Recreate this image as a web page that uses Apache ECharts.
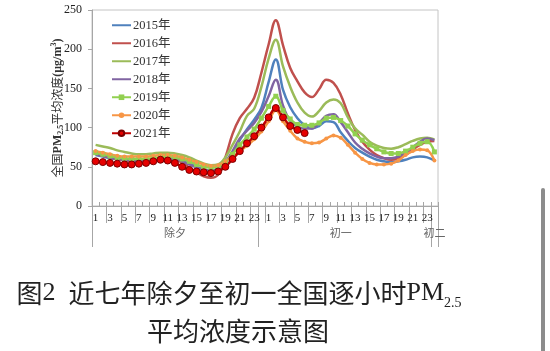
<!DOCTYPE html>
<html><head><meta charset="utf-8">
<script src="https://cdn.jsdelivr.net/npm/echarts@6/dist/echarts.min.js"></script>
<style>html,body{margin:0;padding:0;background:#fff}#c{width:550px;height:351px}</style>
</head><body><div id="c"></div>
<script>
// ---- data ----
const hourLabels = ['1','2','3','4','5','6','7','8','9','10','11','12','13','14','15','16','17','18','19','20','21','22','23',
  '0','1','2','3','4','5','6','7','8','9','10','11','12','13','14','15','16','17','18','19','20','21','22','23',
  '0'];
const dayNames = ['除夕','初一','初二'];
const daySizes = [23,24,1];
const yTicks = [0,50,100,150,200,250];
const seriesNames = ['2015年','2016年','2017年','2018年','2019年','2020年','2021年'];
const y2015 = [65,63,61,60,59,58,58,58,59,60,60,59,57,54,50,47,45,47,54,68,84,98,110,125,158,187,148,126,112,103,99,102,108,107,94,83,74,68,63,59,57,56,57,59,62,63,62,58];
const y2016 = [67,64,62,60,58,57,57,58,59,61,62,60,55,49,43,38,36,40,62,92,112,124,138,170,206,237,205,176,159,145,139,149,161,157,142,118,97,82,72,65,61,59,61,65,72,78,82,83];
const y2017 = [78,76,74,71,69,67,66,66,67,68,68,67,65,62,58,54,52,53,62,78,95,115,124,152,188,212,178,152,132,119,114,121,132,136,131,113,99,91,82,77,74,73,75,79,83,86,87,85];
const y2018 = [66,64,62,60,59,58,58,58,59,60,61,60,57,53,49,46,45,47,56,70,86,96,106,120,140,161,128,108,101,99,99,106,115,117,107,94,81,73,67,63,61,61,63,68,75,82,86,84];
const y2019 = [68,66,64,62,61,60,60,60,61,62,63,62,60,57,53,50,49,50,56,66,78,88,98,112,127,140,122,111,104,103,103,106,112,113,109,102,92,84,78,73,69,67,67,70,75,80,82,69];
const y2020 = [70,68,66,64,63,63,63,63,64,65,65,64,62,59,56,53,51,52,57,63,70,77,85,95,108,122,108,96,86,82,80,81,86,90,87,78,68,60,55,53,53,54,58,65,70,72,71,58];
const y2021 = [57,56,55,54,53,53,54,55,57,59,58,55,50,46,44,43,42,44,50,60,70,80,89,100,113,125,113,102,97,93];
const allData = [y2015,y2016,y2017,y2018,y2019,y2020,y2021];

// group label row + boundaries
const groupLabels = [];
const boundaries = [];
dayNames.forEach((n,gi)=>{
  const start = groupLabels.length;
  boundaries.push(start);
  for(let k=0;k<daySizes[gi];k++){
    groupLabels.push(k===Math.floor((daySizes[gi]-1)/2)? n : '');
  }
});

const colors = ['#4F81BD','#C0504D','#9BBB59','#8064A2','#92D050','#F79646','#C00000'];
const serif = 'Liberation Serif, "Times New Roman", "Noto Sans CJK SC", serif';
const cjk = '"Noto Sans CJK SC", sans-serif';

const series = allData.map((d,i)=>{
  const s = {
    name: seriesNames[i], type:'line', data:d, smooth:0.4,
    xAxisIndex:0, yAxisIndex:0,
    lineStyle:{width:2.5,color:colors[i]},
    itemStyle:{color:colors[i]},
    symbol:'none', showSymbol:false,
    emphasis:{disabled:true}, silent:true
  };
  if(i===4){ s.symbol='rect'; s.showSymbol=true; s.showAllSymbol=true; s.symbolSize=5; }
  if(i===5){ s.symbol='circle'; s.showSymbol=true; s.showAllSymbol=true; s.symbolSize=4; }
  if(i===6){ s.symbol='circle'; s.showSymbol=true; s.showAllSymbol=true; s.symbolSize=7;
    s.itemStyle={color:'#E60000',borderColor:'#7A0000',borderWidth:1}; }
  return s;
});

const legendData = seriesNames.map((n,i)=> i<4 ? {name:n,itemStyle:{opacity:0}} : {name:n});

const chart = echarts.init(document.getElementById('c'));
chart.setOption({
  animation:false,
  backgroundColor:'#fff',
  grid:{left:92,right:112,top:10,bottom:145,show:true,borderColor:'#c4c4c4',borderWidth:1},
  legend:{
    orient:'vertical', left:111, top:19, padding:0, itemWidth:19, itemHeight:7, itemGap:5.5,
    data:legendData,
    textStyle:{fontFamily:serif,fontSize:12.5,color:'#333',padding:[0,0,0,-3]}
  },
  xAxis:[
    {type:'category',data:hourLabels,position:'bottom',boundaryGap:true,
     axisLine:{show:true,lineStyle:{color:'#a6a6a6'}},
     axisTick:{show:true,interval:0,inside:true,length:4,lineStyle:{color:'#a6a6a6'}},
     axisLabel:{interval:1,margin:7,fontSize:11,fontFamily:serif,color:'#222'},
     splitLine:{show:false}},
    {type:'category',data:hourLabels,position:'bottom',boundaryGap:true,
     axisLine:{show:false},
     axisTick:{show:true,interval:1,length:17,lineStyle:{color:'#a6a6a6'}},
     axisLabel:{show:false},splitLine:{show:false}},
    {type:'category',data:groupLabels,position:'bottom',boundaryGap:true,
     axisLine:{show:false},
     axisTick:{show:true,interval:(idx)=>boundaries.indexOf(idx)>=0,length:41,lineStyle:{color:'#a6a6a6'}},
     axisLabel:{interval:0,margin:21,fontSize:11,fontFamily:cjk,color:'#666'},
     splitLine:{show:false}}
  ],
  yAxis:{
    type:'value',min:yTicks[0],max:yTicks[yTicks.length-1],interval:yTicks[1]-yTicks[0],
    splitLine:{show:false},
    axisLine:{show:true,lineStyle:{color:'#a6a6a6'}},
    axisTick:{show:true,length:4,lineStyle:{color:'#a6a6a6'}},
    axisLabel:{margin:10,fontSize:12,fontFamily:serif,color:'#222'},
    name:'{a|全国}{b|PM}{s|2.5}{a|平均浓度}{b|(μg/m}{p|3}{b|)}',
    nameLocation:'middle',nameRotate:90,nameGap:27,nameMoveOverlap:false,
    nameTextStyle:{
      rich:{
        a:{fontSize:12,fontFamily:cjk,color:'#333',lineHeight:15},
        b:{fontSize:12,fontFamily:serif,fontWeight:'bold',color:'#333',lineHeight:15},
        s:{fontSize:8,fontFamily:serif,fontWeight:'bold',color:'#333',verticalAlign:'bottom',lineHeight:15},
        p:{fontSize:8,fontFamily:serif,fontWeight:'bold',color:'#333',verticalAlign:'top',lineHeight:15}
      }
    }
  },
  graphic:[
    {type:'text',x:239,y:293,silent:true,style:{
      text:'{c|图}{r|2  }{c|近七年除夕至初一全国逐小时}{r|PM}{sub|2.5}',
      align:'center',verticalAlign:'middle',
      rich:{
        c:{fontSize:26,fontFamily:cjk,fill:'#222',lineHeight:34},
        r:{fontSize:26,fontFamily:serif,fill:'#222',lineHeight:34},
        sub:{fontSize:14,fontFamily:serif,fill:'#222',verticalAlign:'bottom',lineHeight:30}
      }}},
    {type:'text',x:238,y:331,silent:true,style:{
      text:'平均浓度示意图',align:'center',verticalAlign:'middle',
      fontSize:26,fontFamily:cjk,fill:'#222'}},
    {type:'rect',silent:true,shape:{x:541,y:188,width:4,height:170,r:2},style:{fill:'#8c8c8c'}}
  ],
  series:series
});
</script></body></html>
